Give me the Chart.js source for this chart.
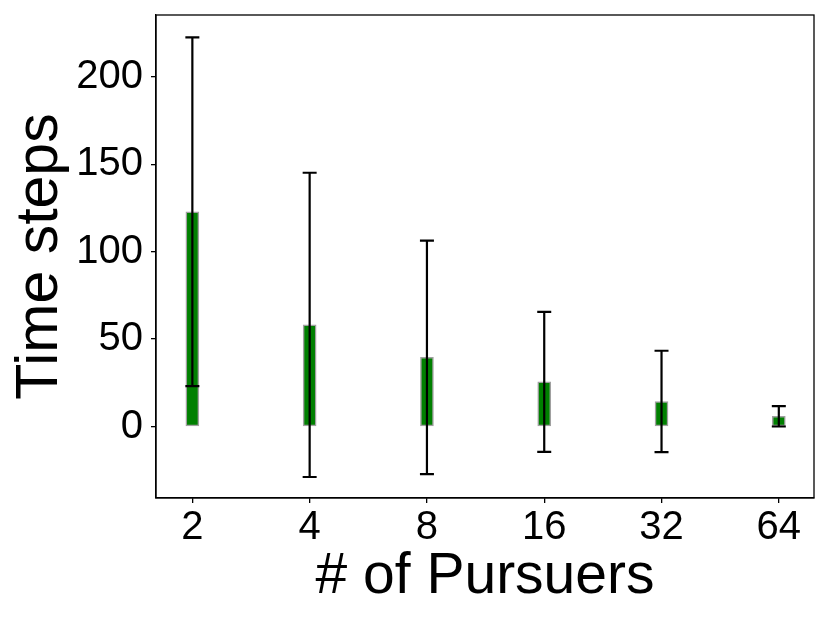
<!DOCTYPE html>
<html>
<head>
<meta charset="utf-8">
<title>Time steps vs # of Pursuers</title>
<script src="https://cdn.jsdelivr.net/npm/chart.js@4.4.1/dist/chart.umd.min.js"></script>
<style>
  html, body { margin: 0; padding: 0; background: #ffffff; }
  #wrap { width: 830px; height: 623px; }
</style>
</head>
<body>
<div id="wrap"><canvas id="pursuitChart" width="830" height="623"></canvas></div>
<script>
// Data
const pursuerLabels = ['2', '4', '8', '16', '32', '64'];
const meanSteps = [122.8, 58.1, 39.5, 25.5, 14.3, 5.8];
const stdSteps = [99.7, 87.0, 66.8, 40.0, 29.0, 5.8];
const yTicks = [0, 50, 100, 150, 200];

const FONT_FAMILY = "'Liberation Sans', Arial, Helvetica, sans-serif";

// Bars sit at integer x positions, label text comes from pursuerLabels
const barPoints = meanSteps.map((v, i) => ({ x: i, y: v }));

// Draws the black error bars (mean +/- std) with caps, through the chart scales
const errorBarPlugin = {
  id: 'errorBars',
  afterDatasetsDraw(chart) {
    const xScale = chart.scales.x;
    const yScale = chart.scales.y;
    const ctx = chart.ctx;
    const capHalf = 7;
    ctx.save();
    ctx.strokeStyle = '#000000';
    ctx.lineWidth = 2.2;
    meanSteps.forEach((m, i) => {
      const x = xScale.getPixelForValue(i);
      const yTop = yScale.getPixelForValue(m + stdSteps[i]);
      const yBot = yScale.getPixelForValue(m - stdSteps[i]);
      ctx.beginPath();
      ctx.moveTo(x, yTop);
      ctx.lineTo(x, yBot);
      ctx.moveTo(x - capHalf, yTop);
      ctx.lineTo(x + capHalf, yTop);
      ctx.moveTo(x - capHalf, yBot);
      ctx.lineTo(x + capHalf, yBot);
      ctx.stroke();
    });
    ctx.restore();
  }
};

// Full box around the plot area (like matplotlib spines)
const framePlugin = {
  id: 'frame',
  afterDraw(chart) {
    const a = chart.chartArea;
    const ctx = chart.ctx;
    ctx.save();
    ctx.strokeStyle = '#000000';
    ctx.lineWidth = 1.3;
    ctx.strokeRect(a.left, a.top, a.right - a.left, a.bottom - a.top);
    ctx.restore();
  }
};

const ctx = document.getElementById('pursuitChart').getContext('2d');
new Chart(ctx, {
  type: 'bar',
  data: {
    datasets: [{
      data: barPoints,
      backgroundColor: '#008000',
      borderColor: 'rgba(128,128,128,0.75)',
      borderWidth: 1.5,
      borderSkipped: false,
      barThickness: 13
    }]
  },
  options: {
    responsive: false,
    animation: false,
    devicePixelRatio: 1,
    layout: { padding: { left: 0, right: 16, top: 15, bottom: 0 } },
    plugins: {
      legend: { display: false },
      tooltip: { enabled: false }
    },
    scales: {
      x: {
        type: 'linear',
        offset: false,
        min: -0.31,
        max: 5.30,
        grid: { display: true, drawOnChartArea: false, offset: false, tickLength: 5, color: '#000000', lineWidth: 1.3 },
        border: { display: true, color: '#000000', width: 1.3 },
        afterBuildTicks: axis => { axis.ticks = pursuerLabels.map((_, i) => ({ value: i })); },
        afterFit: axis => {
          axis.height = 125;
          axis.paddingLeft = 0;
          axis.paddingRight = 0;
        },
        ticks: {
          color: '#000000',
          padding: 1,
          maxRotation: 0,
          font: { family: FONT_FAMILY, size: 40 },
          callback: v => pursuerLabels[v]
        },
        title: {
          display: true,
          text: '# of Pursuers',
          color: '#000000',
          font: { family: FONT_FAMILY, size: 57 },
          padding: { top: 0, bottom: 12 }
        }
      },
      y: {
        min: -40.9,
        max: 235.3,
        grid: { display: true, drawOnChartArea: false, tickLength: 5, color: '#000000', lineWidth: 1.3 },
        border: { display: true, color: '#000000', width: 1.3 },
        afterBuildTicks: axis => { axis.ticks = yTicks.map(v => ({ value: v })); },
        afterFit: axis => {
          axis.width = 156;
          axis.paddingTop = 0;
          axis.paddingBottom = 0;
        },
        ticks: {
          color: '#000000',
          padding: 8,
          font: { family: FONT_FAMILY, size: 40 }
        },
        title: {
          display: true,
          text: 'Time steps',
          color: '#000000',
          font: { family: FONT_FAMILY, size: 59 },
          padding: { top: 5, bottom: 0 }
        }
      }
    }
  },
  plugins: [errorBarPlugin, framePlugin]
});
</script>
</body>
</html>
